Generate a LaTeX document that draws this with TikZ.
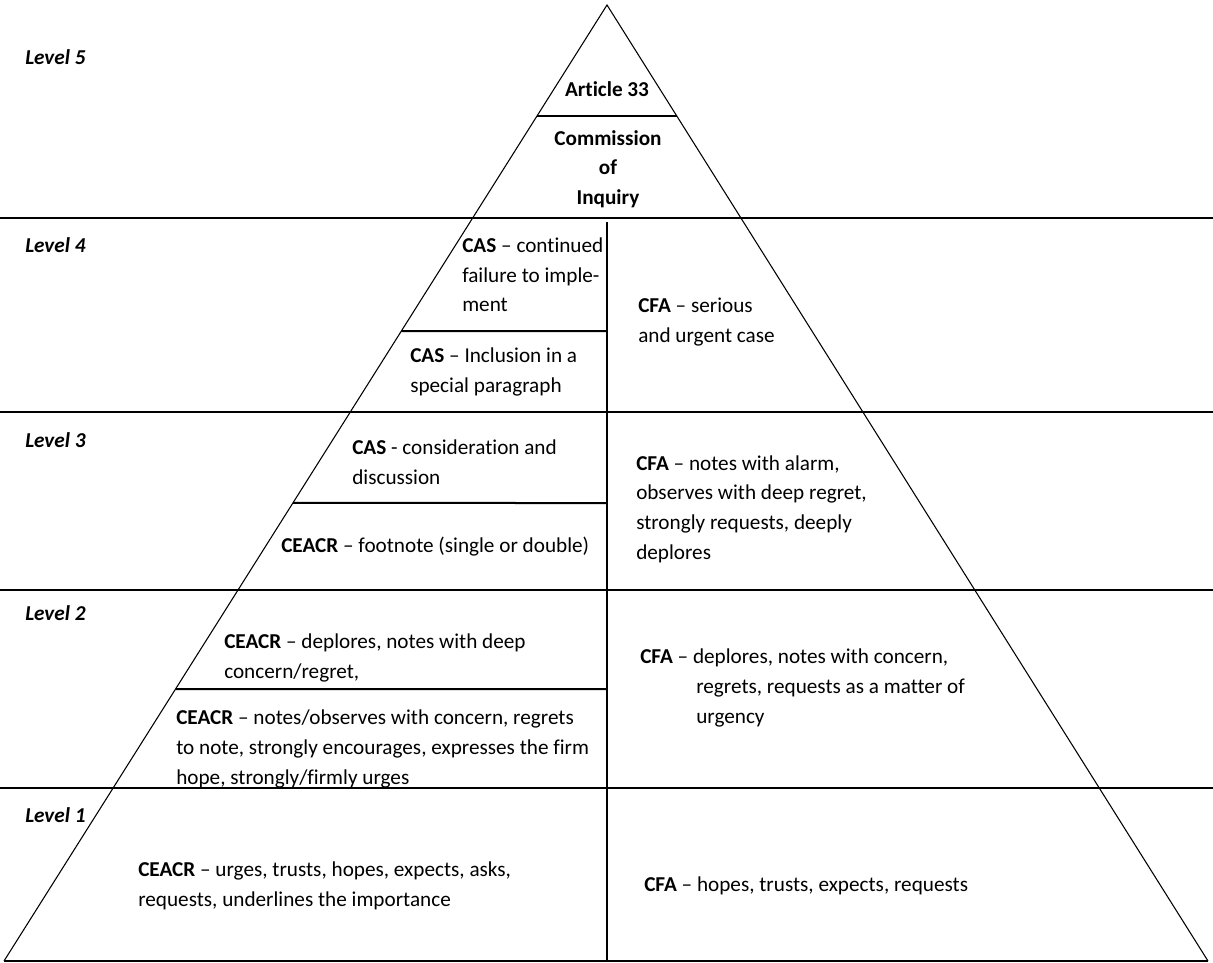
\documentclass[tikz,border=0pt]{standalone}
\usepackage{fontspec}
\setmainfont{Carlito}[Ligatures={NoCommon}]
\usetikzlibrary{calc}
\begin{document}
\begin{tikzpicture}[x=0.75pt,y=-0.75pt,
  txt/.style={anchor=west,align=left,inner sep=0pt,font=\fontsize{15.9}{22.2}\selectfont},
  ctr/.style={anchor=center,align=center,inner sep=0pt,font=\fontsize{15.9}{22.2}\selectfont\bfseries},
  lvl/.style={anchor=west,inner sep=0pt,font=\fontsize{15.9}{22.2}\selectfont\bfseries\itshape},
  side/.style={line width=0.8pt},
  band/.style={line width=1.7pt},
  sub/.style={line width=1.5pt},
  mid/.style={line width=1.1pt}]
\useasboundingbox (0,0) rectangle (1213,963);
% triangle
\coordinate (A) at (607,5);
\coordinate (L) at (4,961);
\coordinate (R) at (1208,961);
\draw[side] (L) -- (A) -- (R);
\draw[mid] (L) -- (R);
% full-width band lines
\foreach \n/\y in {b4/218,b3/412,b2/590,b1/788}{
  \coordinate (\n l) at (0,\y);
  \coordinate (\n r) at (1213,\y);
}
\draw[band] (b4l) -- (b4r);
\draw[band] (b3l) -- (b3r);
\draw[band] (b2l) -- (b2r);
\draw[band] (b1l) -- (b1r);
% vertical divider
\coordinate (vt) at (607,222);
\coordinate (vb) at (607,961);
\draw[mid] (vt) -- (vb);
% sub lines
\coordinate (a5l) at ($(A)!0.1161!(L)$);
\coordinate (a5r) at ($(A)!0.1161!(R)$);
\draw[sub] (a5l) -- (a5r);
\coordinate (s4l) at ($(A)!0.3410!(L)$);
\coordinate (s4r) at (607,331);
\draw[sub] (s4l) -- (s4r);
\coordinate (s3l) at ($(A)!0.5209!(L)$);
\coordinate (s3r) at (607,503);
\draw[sub] (s3l) -- (s3r);
\coordinate (s2l) at ($(A)!0.7155!(L)$);
\coordinate (s2r) at (607,689);
\draw[sub] (s2l) -- (s2r);
% level labels
\node[lvl] (l5) at (25,57) {Level 5};
\node[lvl] (l4) at (25,245) {Level 4};
\node[lvl] (l3) at (25,440) {Level 3};
\node[lvl] (l2) at (25,613) {Level 2};
\node[lvl] (l1) at (25,815) {Level 1};
% level 5
\node[ctr] (art) at (607,89) {Article 33};
\node[ctr] (coi) at (608,169) {Commission\\of\\Inquiry};
% level 4
\node[txt] (cas4a) at (462,275) {\textbf{CAS} – continued\\failure to imple-\\ment};
\node[txt] (cas4b) at (410,372) {\textbf{CAS} – Inclusion in a\\special paragraph};
\node[txt] (cfa4) at (638,322) {\textbf{CFA} – serious\\and urgent case};
% level 3
\node[txt] (cas3) at (352,462) {\textbf{CAS} - consideration and\\discussion};
\node[txt] (cea3) at (281,547) {\textbf{CEACR} – footnote (single or double)};
\node[txt] (cfa3) at (636,509) {\textbf{CFA} – notes with alarm,\\observes with deep regret,\\strongly requests, deeply\\deplores};
% level 2
\node[txt] (cea2a) at (224,658) {\textbf{CEACR} – deplores, notes with deep\\concern/regret,};
\node[txt] (cea2b) at (176,749) {\textbf{CEACR} – notes/observes with concern, regrets\\to note, strongly encourages, expresses the firm\\hope, strongly/firmly urges};
\node[txt] (cfa2) at (640,688) {\textbf{CFA} – deplores, notes with concern,\\\hspace*{42pt}regrets, requests as a matter of\\\hspace*{42pt}urgency};
% level 1
\node[txt] (cea1) at (138,886) {\textbf{CEACR} – urges, trusts, hopes, expects, asks,\\requests, underlines the importance};
\node[txt] (cfa1) at (644,886) {\textbf{CFA} – hopes, trusts, expects, requests};
\end{tikzpicture}
\end{document}
